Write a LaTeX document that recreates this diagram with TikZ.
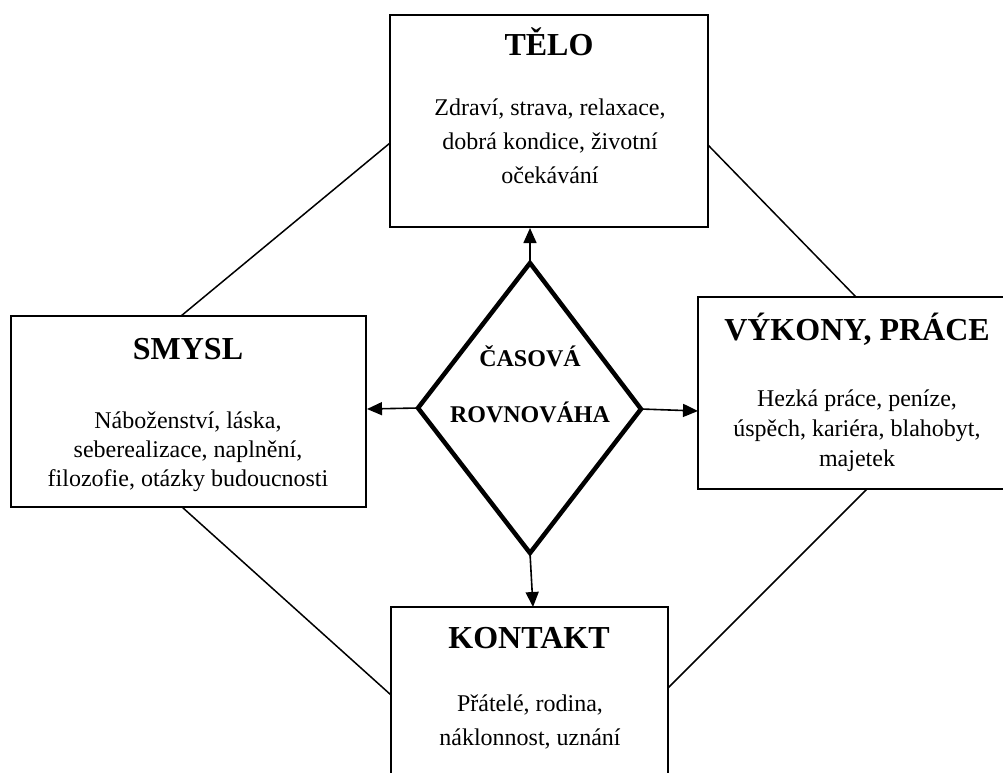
\documentclass[tikz,border=0pt]{standalone}
\usepackage{fontspec}
\setmainfont{Liberation Serif}
\usetikzlibrary{arrows.meta}
\begin{document}
\begin{tikzpicture}[x=1pt,y=-1pt,
 box/.style={draw, line width=2pt, inner sep=0pt, outer sep=0pt},
 ttl/.style={font=\fontsize{32}{36}\selectfont\bfseries, inner sep=0pt},
 body/.style={align=center, inner sep=0pt},
 link/.style={line width=1.5pt},
 arr/.style={line width=1.6pt, -{Triangle[length=15pt,width=13pt]}},
 dia/.style={line width=4.5pt, line join=miter},
]
\useasboundingbox (0,0) rectangle (1003,772);
\clip (0,0) rectangle (1003,772);

% boxes
\node[box, minimum width=318pt, minimum height=212pt] (tel) at (549,121) {};
\node[box, minimum width=355pt, minimum height=191pt] (smy) at (188.5,411.5) {};
\node[box, minimum width=308pt, minimum height=192pt] (vyk) at (852,393) {};
\node[box, minimum width=277pt, minimum height=193pt] (kon) at (529.5,703.5) {};

% titles
\node[ttl] (telT) at (549,42) {TĚLO};
\node[ttl] (smyT) at (188,349) {SMYSL};
\node[ttl] (vykT) at (857,329) {VÝKONY, PRÁCE};
\node[ttl] (konT) at (529,638) {KONTAKT};

% bodies
\node[body, font=\fontsize{24}{34}\selectfont] (telB) at (550,141)
  {Zdraví, strava, relaxace,\\dobrá kondice, životní\\očekávání};
\node[body, font=\fontsize{24}{29}\selectfont] (smyB) at (188,452)
  {Náboženství, láska,\\seberealizace, naplnění,\\filozofie, otázky budoucnosti};
\node[body, font=\fontsize{24}{30}\selectfont] (vykB) at (857,431)
  {Hezká práce, peníze,\\úspěch, kariéra, blahobyt,\\majetek};
\node[body, font=\fontsize{24}{34}\selectfont] (konB) at (530,722)
  {Přátelé, rodina,\\náklonnost, uznání};

% diamond
\coordinate (dT) at (530,263);
\coordinate (dR) at (641,409);
\coordinate (dB) at (530,553);
\coordinate (dL) at (418,408);
\draw[dia] (dT) -- (dR) -- (dB) -- (dL) -- cycle;
\node[body, font=\fontsize{24}{56}\selectfont\bfseries] (cas) at (530,384)
  {ČASOVÁ\\ROVNOVÁHA};

% arrows
\coordinate (aT) at (530,228);
\coordinate (aL) at (367,409);
\coordinate (aR) at (698,411);
\coordinate (aB) at (533,607);
\draw[arr] (dT) -- (aT);
\draw[arr] (dL) -- (aL);
\draw[arr] (dR) -- (aR);
\draw[arr] (dB) -- (aB);

% side links
\coordinate (l1a) at (390,143);
\coordinate (l1b) at (181,316);
\coordinate (l2a) at (708,145);
\coordinate (l2b) at (856,297);
\coordinate (l3a) at (182,507);
\coordinate (l3b) at (391,695);
\coordinate (l4a) at (867,489);
\coordinate (l4b) at (668,688);
\draw[link] (l1a) -- (l1b);
\draw[link] (l2a) -- (l2b);
\draw[link] (l3a) -- (l3b);
\draw[link] (l4a) -- (l4b);
\end{tikzpicture}
\end{document}
